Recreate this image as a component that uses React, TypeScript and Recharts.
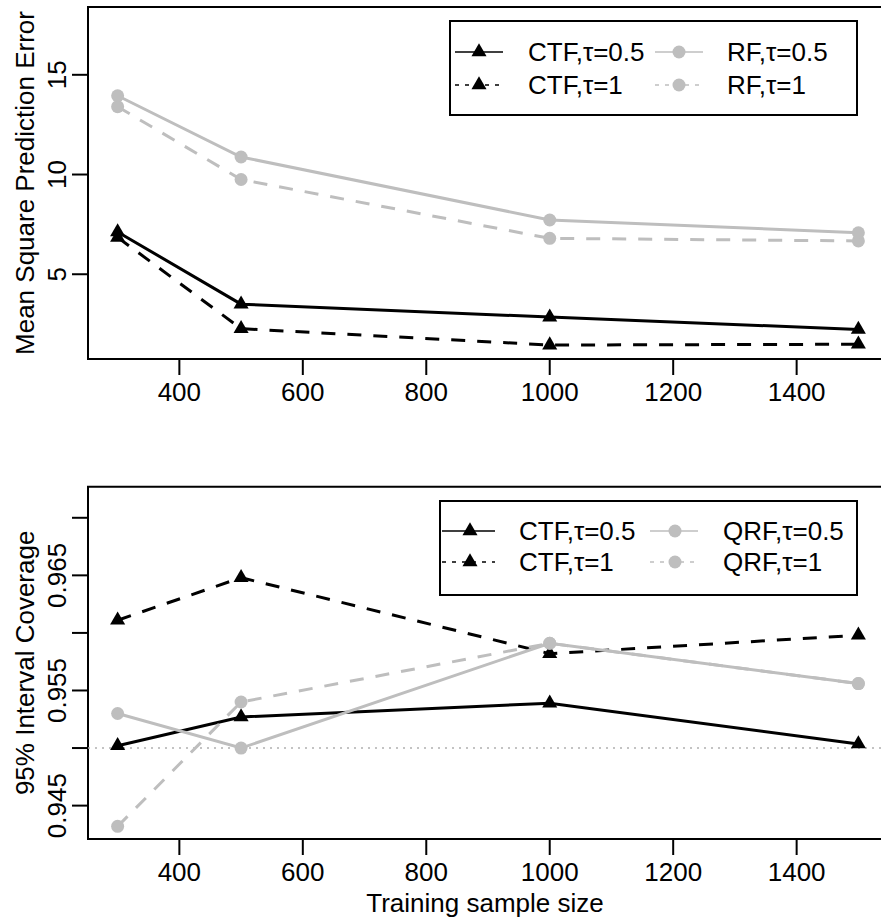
import React from "react";
import {
  LineChart,
  Line,
  XAxis,
  YAxis,
  ReferenceArea,
  ReferenceLine,
  Legend,
} from "recharts";

// ---------- data ----------
const sampleSizes = [300, 500, 1000, 1500];

const mspeCtfTau05 = [7.12, 3.5, 2.85, 2.23];
const mspeCtfTau1 = [6.85, 2.27, 1.45, 1.49];
const mspeRfTau05 = [13.95, 10.88, 7.72, 7.08];
const mspeRfTau1 = [13.4, 9.75, 6.8, 6.67];

const covCtfTau05 = [0.9502, 0.9527, 0.9539, 0.95035];
const covCtfTau1 = [0.9611, 0.9648, 0.9582, 0.9598];
const covQrfTau05 = [0.953, 0.95, 0.9591, 0.9556];
const covQrfTau1 = [0.9432, 0.954, 0.9591, 0.9556];

const xTicks = [400, 600, 800, 1000, 1200, 1400];
const xDomain = [252, 1548];
const mspeTicks = [5, 10, 15];
const mspeDomain = [0.75, 18.4];
const covTicks = [0.945, 0.95, 0.955, 0.96, 0.965, 0.97];
const covLabeledTicks = [0.945, 0.955, 0.965];
const covDomain = [0.9421, 0.9727];
const nominalCoverage = 0.95;

const topLegendLabels = ["CTF,τ=0.5", "CTF,τ=1", "RF,τ=0.5", "RF,τ=1"];
const bottomLegendLabels = ["CTF,τ=0.5", "CTF,τ=1", "QRF,τ=0.5", "QRF,τ=1"];

const xTitle = "Training sample size";
const topYTitle = "Mean Square Prediction Error";
const bottomYTitle = "95% Interval Coverage";

const mspeData = sampleSizes.map((n, i) => ({
  n,
  a: mspeCtfTau05[i],
  b: mspeCtfTau1[i],
  c: mspeRfTau05[i],
  d: mspeRfTau1[i],
}));

const covData = sampleSizes.map((n, i) => ({
  n,
  a: covCtfTau05[i],
  b: covCtfTau1[i],
  c: covQrfTau05[i],
  d: covQrfTau1[i],
}));

// ---------- styles ----------
const FONT = "'Liberation Sans', Arial, Helvetica, sans-serif";
const FS = 26;
const HALF = 0.36 * FS;
const BLACK = "#000000";
const GREY = "#BEBEBE";
const DASH = "14 12";

// ---------- marks ----------
const triPath = (cx: number, cy: number) => {
  const s = 5.6;
  const top = 1.5551 * s;
  const base = 0.7776 * s;
  const hw = 1.3468 * s;
  return `M${cx},${cy - top} L${cx + hw},${cy + base} L${cx - hw},${cy + base} Z`;
};

const TriangleDot = (props: any) => {
  const { cx, cy, index } = props;
  if (cx == null || cy == null) return <g key={`t${index}`} />;
  return <path key={`t${index}`} d={triPath(cx, cy)} fill={BLACK} stroke="none" />;
};

const CircleDot = (props: any) => {
  const { cx, cy, index } = props;
  if (cx == null || cy == null) return <g key={`c${index}`} />;
  return <circle key={`c${index}`} cx={cx} cy={cy} r={6.5} fill={GREY} stroke="none" />;
};

// ---------- axes helpers ----------
const RotatedYTick = (props: any) => {
  const { x, y, payload, labeled } = props;
  const v = payload.value;
  const show = labeled ? labeled.some((t: number) => Math.abs(t - v) < 1e-9) : true;
  if (!show) return <g />;
  const bx = x - 3.6;
  return (
    <text
      x={bx}
      y={y}
      transform={`rotate(-90 ${bx} ${y})`}
      textAnchor="middle"
      fontSize={FS}
      fontFamily={FONT}
      fill={BLACK}
    >
      {String(v)}
    </text>
  );
};

const YTitle = (props: any) => {
  const { viewBox, text } = props;
  const cy = viewBox.y + viewBox.height / 2;
  const bx = viewBox.x + 25 + HALF;
  return (
    <text
      x={bx}
      y={cy}
      transform={`rotate(-90 ${bx} ${cy})`}
      textAnchor="middle"
      fontSize={FS}
      fontFamily={FONT}
      fill={BLACK}
    >
      {text}
    </text>
  );
};

const XTitle = (props: any) => {
  const { viewBox, text } = props;
  const cx = viewBox.x + viewBox.width / 2 - 3;
  const by = viewBox.y + 64 + HALF;
  return (
    <text x={cx} y={by} textAnchor="middle" fontSize={FS} fontFamily={FONT} fill={BLACK}>
      {text}
    </text>
  );
};

// ---------- legend ----------
type LegendGeom = {
  width: number;
  rows: number[];
  cols: { x1: number; x2: number; mk: number; tx: number }[];
};

const LegendBox = ({ labels, g }: { labels: string[]; g: LegendGeom }) => {
  const h = 96;
  const items = [
    { col: 0, row: 0, dashed: false, tri: true },
    { col: 0, row: 1, dashed: true, tri: true },
    { col: 1, row: 0, dashed: false, tri: false },
    { col: 1, row: 1, dashed: true, tri: false },
  ];
  return (
    <svg width={g.width} height={h} style={{ display: "block", overflow: "visible" }}>
      <rect x={1} y={1} width={g.width - 2} height={h - 2} fill="#fff" stroke={BLACK} strokeWidth={2} />
      {items.map((it, i) => {
        const c = g.cols[it.col];
        const y = g.rows[it.row];
        const color = it.tri ? BLACK : GREY;
        return (
          <g key={i}>
            <line
              x1={c.x1}
              x2={c.x2}
              y1={y}
              y2={y}
              stroke={color}
              strokeWidth={1.6}
              strokeDasharray={it.dashed ? "4 6" : undefined}
            />
            {it.tri ? (
              <path d={triPath(c.mk, y)} fill={BLACK} />
            ) : (
              <circle cx={c.mk} cy={y} r={6.5} fill={GREY} />
            )}
            <text x={c.tx} y={y + HALF} fontSize={FS} fontFamily={FONT} fill={BLACK}>
              {labels[i]}
            </text>
          </g>
        );
      })}
    </svg>
  );
};

const topLegendGeom: LegendGeom = {
  width: 409,
  rows: [32, 65],
  cols: [
    { x1: 6, x2: 54, mk: 30, tx: 79 },
    { x1: 206, x2: 254, mk: 230, tx: 278 },
  ],
};

const bottomLegendGeom: LegendGeom = {
  width: 419,
  rows: [31, 62],
  cols: [
    { x1: 3, x2: 56, mk: 31, tx: 80 },
    { x1: 211, x2: 259, mk: 236, tx: 284 },
  ],
};

// ---------- series ----------
const renderSeries = () => [
  <Line
    key="a"
    dataKey="a"
    stroke={BLACK}
    strokeWidth={3}
    dot={TriangleDot}
    activeDot={false}
    isAnimationActive={false}
    type="linear"
  />,
  <Line
    key="b"
    dataKey="b"
    stroke={BLACK}
    strokeWidth={3}
    strokeDasharray={DASH}
    dot={TriangleDot}
    activeDot={false}
    isAnimationActive={false}
    type="linear"
  />,
  <Line
    key="d"
    dataKey="d"
    stroke={GREY}
    strokeWidth={3}
    strokeDasharray={DASH}
    dot={CircleDot}
    activeDot={false}
    isAnimationActive={false}
    type="linear"
  />,
  <Line
    key="c"
    dataKey="c"
    stroke={GREY}
    strokeWidth={3}
    dot={CircleDot}
    activeDot={false}
    isAnimationActive={false}
    type="linear"
  />,
];

const tickLineStyle = { stroke: BLACK, strokeWidth: 2 };

export default function App() {
  return (
    <div
      style={{
        position: "absolute",
        left: 0,
        top: 0,
        width: 881,
        height: 922,
        overflow: "hidden",
        background: "#fff",
        fontFamily: FONT,
      }}
    >
      {/* top panel */}
      <div style={{ position: "absolute", left: 0, top: 0 }}>
        <LineChart
          width={900}
          height={420}
          data={mspeData}
          margin={{ top: 7, right: 12, bottom: 0, left: 0 }}
        >
          <XAxis
            dataKey="n"
            type="number"
            domain={xDomain}
            ticks={xTicks}
            allowDataOverflow
            interval={0}
            height={61}
            axisLine={false}
            tickLine={tickLineStyle}
            tickSize={16}
            tickMargin={8}
            tick={{ fill: BLACK, fontSize: FS, fontFamily: FONT }}
          />
          <YAxis
            type="number"
            domain={mspeDomain}
            ticks={mspeTicks}
            allowDataOverflow
            interval={0}
            width={88}
            axisLine={false}
            tickLine={tickLineStyle}
            tickSize={16}
            tickMargin={2}
            tick={<RotatedYTick />}
            label={<YTitle text={topYTitle} />}
          />
          <ReferenceArea
            x1={xDomain[0]}
            x2={xDomain[1]}
            y1={mspeDomain[0]}
            y2={mspeDomain[1]}
            fill="none"
            fillOpacity={0}
            stroke={BLACK}
            strokeWidth={2}
            ifOverflow="visible"
          />
          {renderSeries()}
          <Legend
            layout="horizontal"
            verticalAlign="middle"
            align="center"
            wrapperStyle={{ left: 449, top: 20, width: 409, height: 96 }}
            content={() => <LegendBox labels={topLegendLabels} g={topLegendGeom} />}
          />
        </LineChart>
      </div>

      {/* bottom panel */}
      <div style={{ position: "absolute", left: 0, top: 440 }}>
        <LineChart
          width={900}
          height={482}
          data={covData}
          margin={{ top: 46.7, right: 12, bottom: 0, left: 0 }}
        >
          <XAxis
            dataKey="n"
            type="number"
            domain={xDomain}
            ticks={xTicks}
            allowDataOverflow
            interval={0}
            height={83}
            axisLine={false}
            tickLine={tickLineStyle}
            tickSize={16}
            tickMargin={8}
            tick={{ fill: BLACK, fontSize: FS, fontFamily: FONT }}
            label={<XTitle text={xTitle} />}
          />
          <YAxis
            type="number"
            domain={covDomain}
            ticks={covTicks}
            allowDataOverflow
            interval={0}
            width={88}
            axisLine={false}
            tickLine={tickLineStyle}
            tickSize={16}
            tickMargin={2}
            tick={<RotatedYTick labeled={covLabeledTicks} />}
            label={<YTitle text={bottomYTitle} />}
          />
          <ReferenceArea
            x1={xDomain[0]}
            x2={xDomain[1]}
            y1={covDomain[0]}
            y2={covDomain[1]}
            fill="none"
            fillOpacity={0}
            stroke={BLACK}
            strokeWidth={2}
            ifOverflow="visible"
          />
          <ReferenceLine
            y={nominalCoverage}
            stroke="#B0B0B0"
            strokeWidth={1.5}
            strokeDasharray="2 5"
          />
          {renderSeries()}
          <Legend
            layout="horizontal"
            verticalAlign="middle"
            align="center"
            wrapperStyle={{ left: 439, top: 60, width: 419, height: 96 }}
            content={() => <LegendBox labels={bottomLegendLabels} g={bottomLegendGeom} />}
          />
        </LineChart>
      </div>
    </div>
  );
}
